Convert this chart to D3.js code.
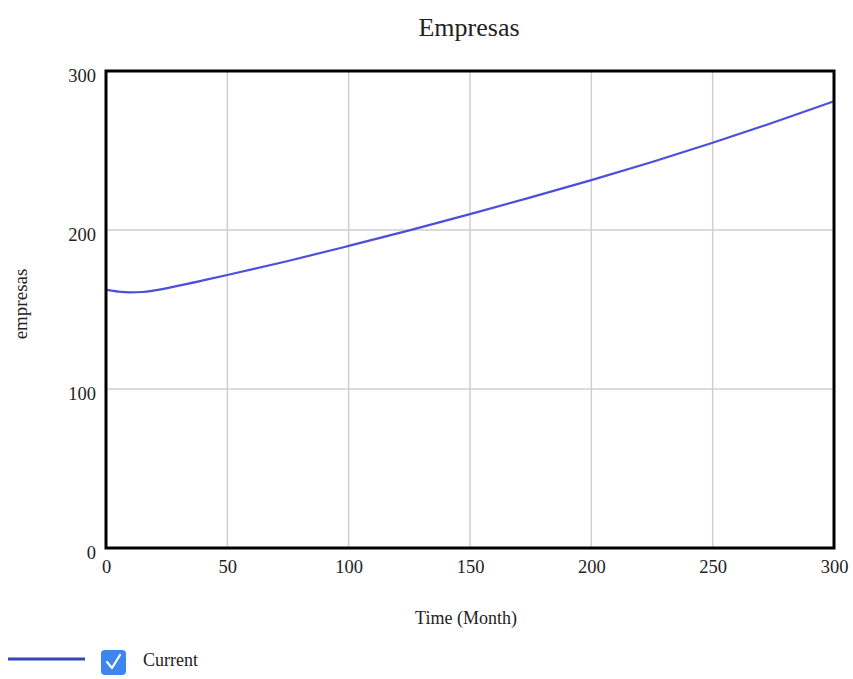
<!DOCTYPE html>
<html><head><meta charset="utf-8">
<script src="https://cdn.jsdelivr.net/npm/d3@7"></script>
<style>body{margin:0;background:#fff}svg{display:block}text{font-family:"Liberation Serif","Times New Roman",serif;fill:#222}</style>
</head><body><svg id="c" width="853" height="679"></svg>
<script>
const title = "Empresas";
const xLabel = "Time (Month)";
const yLabel = "empresas";
const seriesName = "Current";
const times = [0, 5, 10, 15, 20, 30, 40, 50, 75, 100, 125, 150, 175, 200, 225, 250, 275, 300];
const values = [162.5, 161.3, 160.8, 161.0, 162.0, 165.0, 168.3, 171.7, 180.5, 190.0, 199.8, 210.0, 220.5, 231.4, 242.8, 254.9, 267.6, 281.0];
const xTicks = [0, 50, 100, 150, 200, 250, 300];
const yTicks = [0, 100, 200, 300];

const svg = d3.select("#c");
const L = 106, R = 834, T = 71, B = 548;
const x = d3.scaleLinear().domain([0, 300]).range([L, R]);
const y = d3.scaleLinear().domain([0, 300]).range([B, T]);

// grid
svg.append("g").selectAll("line").data(xTicks.slice(1, -1)).join("line")
  .attr("x1", d => x(d)).attr("x2", d => x(d)).attr("y1", T).attr("y2", B)
  .attr("stroke", "#cfcfcf").attr("stroke-width", 1.5);
svg.append("g").selectAll("line").data(yTicks.slice(1, -1)).join("line")
  .attr("y1", d => y(d)).attr("y2", d => y(d)).attr("x1", L).attr("x2", R)
  .attr("stroke", "#cfcfcf").attr("stroke-width", 1.5);

// line
const line = d3.line().x((d, i) => x(times[i])).y(d => y(d)).curve(d3.curveMonotoneX);
svg.append("path").datum(values).attr("d", line)
  .attr("fill", "none").attr("stroke", "#4b4fdc").attr("stroke-width", 2.2);

// frame
svg.append("rect").attr("x", L).attr("y", T).attr("width", R - L).attr("height", B - T)
  .attr("fill", "none").attr("stroke", "#000").attr("stroke-width", 3);

// axes labels via axis generators
const xAxis = svg.append("g").attr("transform", `translate(0,${B + 6})`)
  .call(d3.axisBottom(x).tickValues(xTicks).tickSize(0).tickPadding(6));
xAxis.select(".domain").remove();
xAxis.selectAll("text").attr("font-size", 18.5).attr("font-family", "Liberation Serif").attr("fill", "#222");

const yAxis = svg.append("g").attr("transform", `translate(${L - 10},0)`)
  .call(d3.axisLeft(y).tickValues(yTicks).tickSize(0).tickPadding(0));
yAxis.select(".domain").remove();
yAxis.selectAll("text").attr("font-size", 18.5).attr("font-family", "Liberation Serif").attr("fill", "#222").attr("dy", "0.55em");

// titles
svg.append("text").attr("x", 469).attr("y", 36).attr("text-anchor", "middle")
  .attr("font-size", 26).text(title);
svg.append("text").attr("x", 466).attr("y", 624).attr("text-anchor", "middle")
  .attr("font-size", 18).text(xLabel);
svg.append("text").attr("transform", "translate(27,304) rotate(-90)").attr("text-anchor", "middle")
  .attr("font-size", 19).text(yLabel);

// legend
svg.append("line").attr("x1", 8).attr("x2", 85).attr("y1", 659).attr("y2", 659)
  .attr("stroke", "#3346b8").attr("stroke-width", 3);
svg.append("rect").attr("x", 101).attr("y", 650).attr("width", 25).attr("height", 25).attr("rx", 4)
  .attr("fill", "#3d85f0");
svg.append("path").attr("d", "M107,662 L112,668 L120,655").attr("fill", "none")
  .attr("stroke", "#fff").attr("stroke-width", 2.2).attr("stroke-linecap", "round").attr("stroke-linejoin", "round");
svg.append("text").attr("x", 143).attr("y", 666).attr("font-size", 18).text(seriesName);
</script></body></html>
